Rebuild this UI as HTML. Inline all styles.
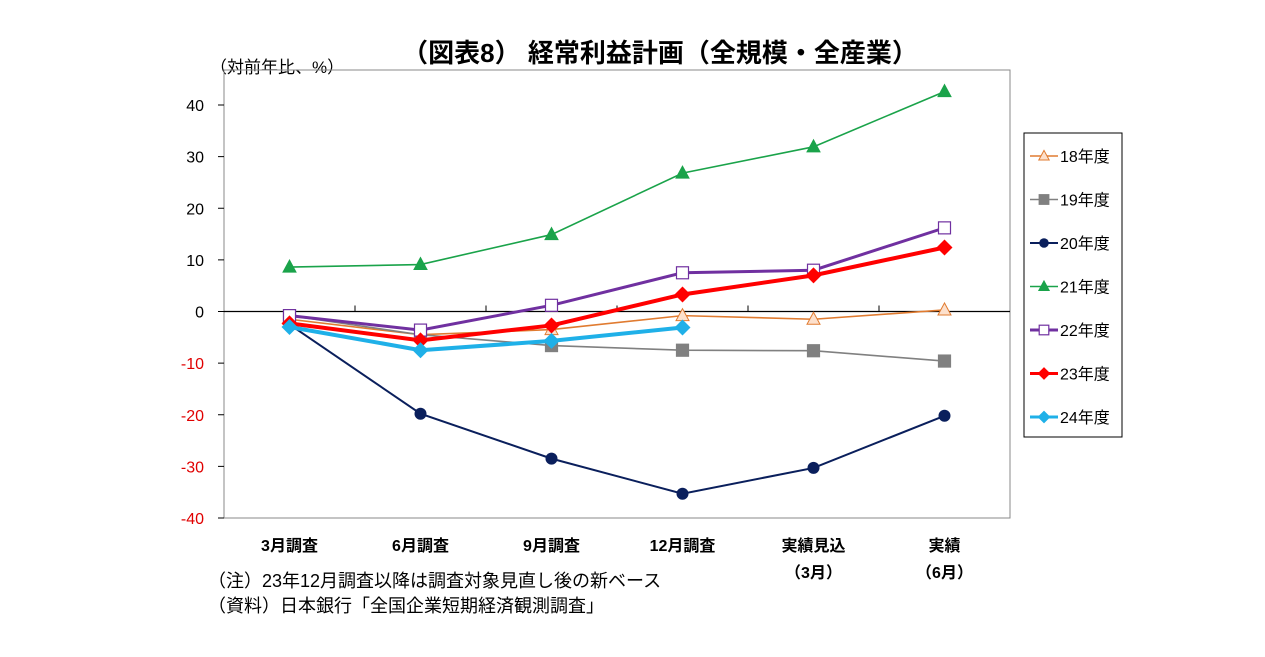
<!DOCTYPE html>
<html><head><meta charset="utf-8"><style>
body{margin:0;background:#fff;font-family:"Liberation Sans","Noto Sans CJK JP",sans-serif;}
svg{display:block}
</style></head><body>
<svg id="c" width="1265" height="657" xmlns="http://www.w3.org/2000/svg">
<text x="660" y="62" text-anchor="middle" font-size="26" font-weight="bold" fill="#000" font-family="Liberation Sans, Noto Sans CJK JP, sans-serif">（図表8） 経常利益計画（全規模・全産業）</text>
<text x="210" y="73" font-size="17" fill="#000" font-family="Liberation Sans, Noto Sans CJK JP, sans-serif">（対前年比、%）</text>
<rect x="224" y="70" width="786" height="448" fill="none" stroke="#888" stroke-width="1"/>
<g id="axes"></g>
<g id="series"></g>
<text x="208" y="587" font-size="18" font-family="Liberation Sans, Noto Sans CJK JP, sans-serif">（注）23年12月調査以降は調査対象見直し後の新ベース</text>
<text x="208" y="612" font-size="18" font-family="Liberation Sans, Noto Sans CJK JP, sans-serif">（資料）日本銀行「全国企業短期経済観測調査」</text>
<rect x="1024" y="133" width="98" height="304" fill="#fff" stroke="#000" stroke-width="1"/>
<g id="legend"></g>
</svg>
<script>
const categories=["3月調査","6月調査","9月調査","12月調査","実績見込","実績"];
const categories2=["","","","","（3月）","（6月）"];
const yTicks=[40,30,20,10,0,-10,-20,-30,-40];
const seriesNames=["18年度","19年度","20年度","21年度","22年度","23年度","24年度"];
const s18=[-1.5,-4.5,-3.5,-0.8,-1.5,0.3];
const s19=[-0.8,-4.5,-6.6,-7.5,-7.6,-9.6];
const s20=[-2.5,-19.8,-28.5,-35.3,-30.3,-20.2];
const s21=[8.6,9.1,14.9,26.8,31.9,42.6];
const s22=[-0.8,-3.6,1.2,7.5,8.0,16.2];
const s23=[-2.3,-5.6,-2.7,3.3,7.0,12.4];
const s24=[-3.0,-7.5,-5.7,-3.1];
const NS="http://www.w3.org/2000/svg";
const X0=224,X1=1010,Y0=518,Y1=105;
function x(i){return X0+(X1-X0)/categories.length*(i+0.5);}
function y(v){return Y0-(v+40)/80*(Y0-Y1);}
function mk(t,a,p){const e=document.createElementNS(NS,t);for(const k in a)e.setAttribute(k,a[k]);p.appendChild(e);return e;}
const ax=document.getElementById('axes');
yTicks.forEach(v=>{
 const t=mk('text',{x:204,y:y(v)+6,'text-anchor':'end','font-size':16,fill:v<0?'#e00000':'#000'},ax);
 t.textContent=v;
 
 
 const l=mk('line',{x1:218,x2:224,y1:y(v),y2:y(v),stroke:'#000'},ax);
 
 
});
const z=mk('line',{x1:X0,x2:X1,y1:y(0),y2:y(0),stroke:'#000','stroke-width':1.3},ax);


categories.forEach((c,i)=>{
 if(i>0){const tk=mk('line',{x1:X0+(X1-X0)/6*i,x2:X0+(X1-X0)/6*i,y1:y(0)-6,y2:y(0),stroke:'#000'},ax);
 
 }
 const t=mk('text',{x:x(i),y:551,'text-anchor':'middle','font-size':16,'font-weight':'bold'},ax);
 t.textContent=c;
 
 
 if(categories2[i]){const t2=mk('text',{x:x(i),y:578,'text-anchor':'middle','font-size':16,'font-weight':'bold'},ax);
 t2.textContent=categories2[i];
 
 }
});
const styles=[
 {d:s18,c:'#e07b30',w:1.6,m:'tri',fill:'#fde0cc'},
 {d:s19,c:'#808080',w:1.6,m:'sq',fill:'#808080'},
 {d:s20,c:'#0a1f5c',w:2,m:'circ',fill:'#0a1f5c'},
 {d:s21,c:'#1aa34a',w:1.6,m:'tri',fill:'#1aa34a'},
 {d:s22,c:'#7030a0',w:3,m:'sq',fill:'#fff'},
 {d:s23,c:'#ff0000',w:4,m:'dia',fill:'#ff0000'},
 {d:s24,c:'#1fb0e8',w:4,m:'dia',fill:'#1fb0e8'}];
function marker(p,m,cx,cy,col,fill,sc){
 sc=sc||1;let e;
 if(m==='tri')e=mk('polygon',{points:`${cx},${cy-7*sc} ${cx-6.5*sc},${cy+5*sc} ${cx+6.5*sc},${cy+5*sc}`,fill:fill,stroke:col,'stroke-width':1},p);
 else if(m==='sq')e=mk('rect',{x:cx-6*sc,y:cy-6*sc,width:12*sc,height:12*sc,fill:fill,stroke:col,'stroke-width':1.2},p);
 else if(m==='circ')e=mk('circle',{cx:cx,cy:cy,r:6*sc,fill:fill},p);
 else e=mk('polygon',{points:`${cx},${cy-8*sc} ${cx+8*sc},${cy} ${cx},${cy+8*sc} ${cx-8*sc},${cy}`,fill:fill},p);
 return e;}
const sg=document.getElementById('series');
const lg=document.getElementById('legend');
styles.forEach((s,k)=>{
 const g=mk('g',{},sg);
 
 
 const pl=mk('polyline',{points:s.d.map((v,i)=>x(i)+','+y(v)).join(' '),fill:'none',stroke:s.c,'stroke-width':s.w},g);
 
 
 s.d.forEach((v,i)=>{const mm=marker(g,s.m,x(i),y(v),s.c,s.fill);
  
  });
 const ly=156+k*43.5;
 const le=mk('g',{},lg);
 
 
 mk('line',{x1:1030,x2:1058,y1:ly,y2:ly,stroke:s.c,'stroke-width':Math.min(s.w,3)},le);
 marker(le,s.m,1044,ly,s.c,s.fill,0.8);
 const t=mk('text',{x:1060,y:ly+6,'font-size':16},le);
 t.textContent=seriesNames[k];
});
</script>
</body></html>
